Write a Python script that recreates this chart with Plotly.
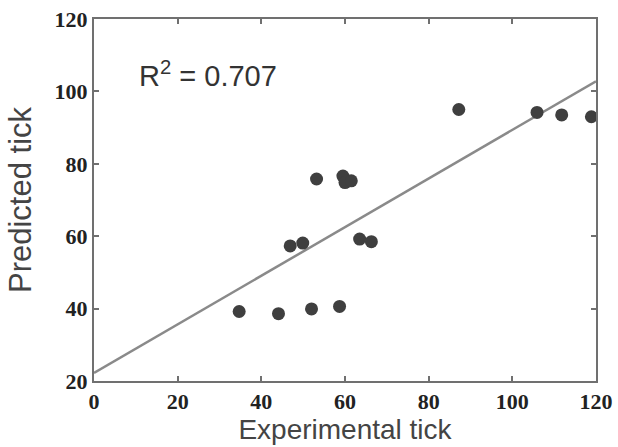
import plotly.graph_objects as go

experimental = [34.7, 44.1, 52.0, 58.7, 46.9, 49.9, 63.5, 66.3, 53.2, 59.5, 60.0, 61.5, 87.2, 105.9, 111.8, 118.9]
predicted = [39.2, 38.6, 39.9, 40.6, 57.3, 58.1, 59.2, 58.5, 75.8, 76.6, 74.8, 75.3, 95.0, 94.2, 93.5, 93.0]
fit_x = [0, 120]
fit_y = [22.2, 102.8]
x_ticks = [0, 20, 40, 60, 80, 100, 120]
y_ticks = [20, 40, 60, 80, 100, 120]

fig = go.Figure()
fig.add_trace(go.Scatter(x=fit_x, y=fit_y, mode="lines",
                         line=dict(color="#8a8a8a", width=2.5), showlegend=False))
fig.add_trace(go.Scatter(x=experimental, y=predicted, mode="markers",
                         marker=dict(color="#3f3f3f", size=13, line=dict(width=0)),
                         showlegend=False))

fig.add_annotation(x=10.2, y=104.7, xref="x", yref="y", xanchor="left", yanchor="middle",
                   text="R<sup>2</sup> = 0.707", showarrow=False,
                   font=dict(family="Liberation Sans, Arial", size=29, color="#333333"))

axis_common = dict(showgrid=False, zeroline=False, showline=True, linecolor="#707070",
                   linewidth=2, mirror="ticks", ticks="inside", ticklen=5, tickwidth=1.5,
                   tickcolor="#707070", automargin=False, ticklabeloverflow="allow",
                   tickfont=dict(family="Liberation Serif, Times New Roman", size=22,
                                 color="#222222", weight="bold"))

fig.update_xaxes(range=[0, 120], tickvals=x_ticks, ticktext=[str(v) for v in x_ticks],
                 title=dict(text="Experimental tick", standoff=6,
                            font=dict(family="Liberation Sans, Arial", size=28, color="#444444")),
                 **axis_common)
fig.update_yaxes(range=[20, 120], tickvals=y_ticks, ticktext=[str(v) for v in y_ticks],
                 title=dict(text="Predicted tick", standoff=14,
                            font=dict(family="Liberation Sans, Arial", size=31, color="#444444")),
                 **axis_common)

fig.update_layout(width=618, height=447, margin=dict(l=94, r=22, t=19, b=66),
                  plot_bgcolor="white", paper_bgcolor="white")

fig.write_html("out.html", config={"displayModeBar": False},
               post_script="document.body.style.margin='0';document.body.style.overflow='hidden';")
